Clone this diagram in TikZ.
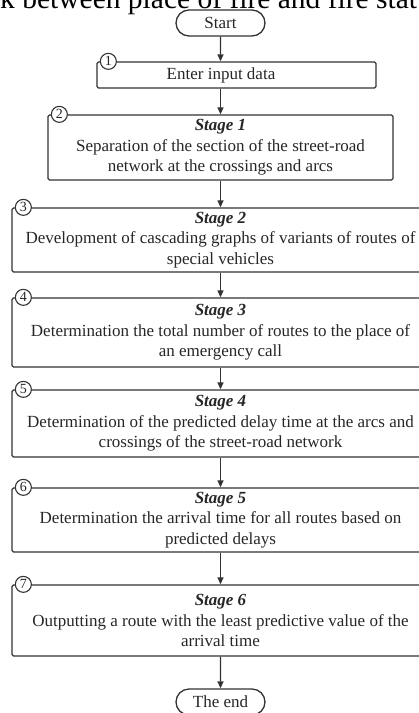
\documentclass[tikz,border=0pt]{standalone}
\usepackage{fontspec}
\setmainfont{Liberation Serif}
\usetikzlibrary{arrows.meta,shapes.misc}

\begin{document}
\begin{tikzpicture}[x=1pt,y=-1pt,
	stagebox/.style={draw=black!80, line width=1.3pt, rounded corners=1.5pt, align=center, text=black!85, font=\fontsize{17}{20.5}\selectfont},
	term/.style={rounded rectangle, draw=black!80, line width=1.3pt, minimum width=89, minimum height=26, inner sep=0pt, text=black!85, font=\fontsize{17}{20}\selectfont},
	numcirc/.style={circle, draw=black!80, line width=1.1pt, fill=white, inner sep=0pt, minimum size=16, text=black!85, font=\fontsize{14}{14}\selectfont},
	flow/.style={draw=black!80, line width=1.3pt, -{Triangle[length=7pt,width=6pt]}}]
	\useasboundingbox (0,0) rectangle (419,713);
	\clip (0,0) rectangle (419,713);
	
	\node[anchor=base west, inner sep=0pt, font=\fontsize{29.5}{30}\selectfont] (caption) at (0,8) {k between place of fire and fire stat};
	
	\node[term] (start) at (220.5,23) {Start};
	\node[stagebox, minimum width=279, minimum height=26] (b1) at (236.5,75) {};
	\node[stagebox, draw=none] (t1) at (221,75) {Enter input data};
	\node[stagebox, minimum width=345, minimum height=65] (b2) at (220.5,147.5) {\textbf{\textit{Stage 1}}\\Separation of the section of the street-road\\network at the crossings and arcs};
	\node[stagebox, minimum width=417, minimum height=64] (b3) at (220.5,240) {\textbf{\textit{Stage 2}}\\Development of cascading graphs of variants of routes of\\special vehicles};
	\node[stagebox, minimum width=417, minimum height=69] (b4) at (220.5,332.5) {\textbf{\textit{Stage 3}}\\Determination the total number of routes to the place of\\an emergency call};
	\node[stagebox, minimum width=417, minimum height=67] (b5) at (220.5,423.5) {\textbf{\textit{Stage 4}}\\Determination of the predicted delay time at the arcs and\\crossings of the street-road network};
	\node[stagebox, minimum width=417, minimum height=64] (b6) at (220.5,520) {\textbf{\textit{Stage 5}}\\Determination the arrival time for all routes based on\\predicted delays};
	\node[stagebox, minimum width=417, minimum height=71] (b7) at (220.5,620.5) {\textbf{\textit{Stage 6}}\\Outputting a route with the least predictive value of the\\arrival time};
	\node[term] (end) at (220.5,702) {The end};
	
	\node[numcirc] (n1) at ([xshift=12]b1.north west) {1};
	\node[numcirc] (n2) at ([xshift=12]b2.north west) {2};
	\node[numcirc] (n3) at ([xshift=12]b3.north west) {3};
	\node[numcirc] (n4) at ([xshift=12]b4.north west) {4};
	\node[numcirc] (n5) at ([xshift=12]b5.north west) {5};
	\node[numcirc] (n6) at ([xshift=12]b6.north west) {6};
	\node[numcirc] (n7) at ([xshift=12]b7.north west) {7};
	
	\draw[flow] (start) -- (start |- b1.north);
	\draw[flow] (b1.south -| start) -- (b2.north);
	\draw[flow] (b2) -- (b3);
	\draw[flow] (b3) -- (b4);
	\draw[flow] (b4) -- (b5);
	\draw[flow] (b5) -- (b6);
	\draw[flow] (b6) -- (b7);
	\draw[flow] (b7) -- (end);
\end{tikzpicture}
\end{document}
